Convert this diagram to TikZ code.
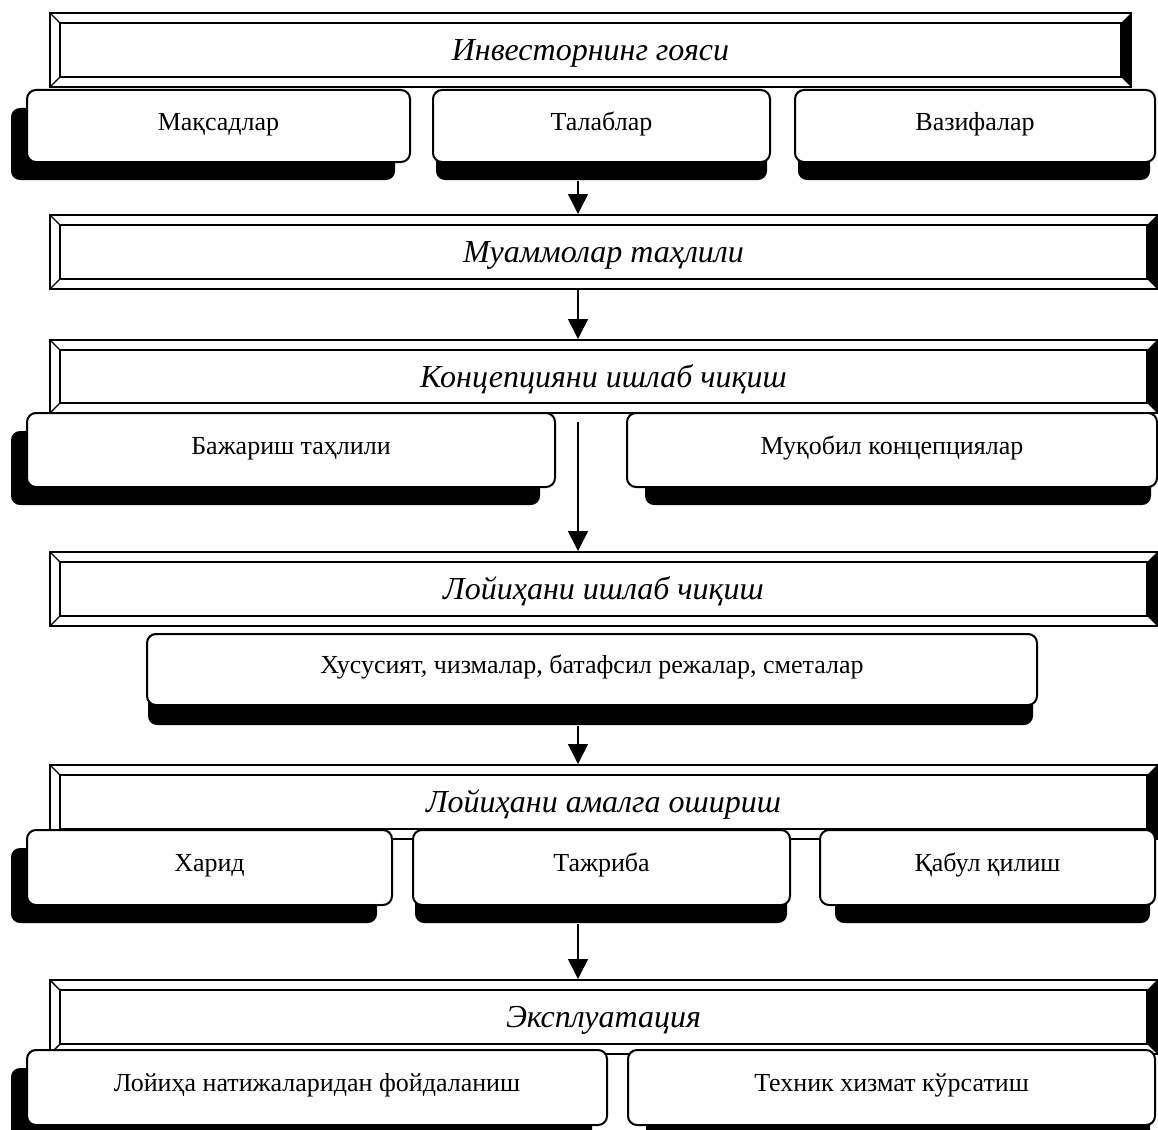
\documentclass[tikz,border=0pt]{standalone}
\usepackage{fontspec}
\setmainfont{Liberation Serif}
\usetikzlibrary{arrows.meta,calc}

\tikzset{
  hbox/.style={draw, line width=2pt, inner sep=0pt,
    text height=26pt, text depth=5pt,
    font=\fontsize{32}{36}\selectfont\itshape,
    path picture={
      \coordinate (ne) at (path picture bounding box.north east);
      \coordinate (se) at (path picture bounding box.south east);
      \coordinate (nw) at (path picture bounding box.north west);
      \coordinate (sw) at (path picture bounding box.south west);
      \fill (ne) -- ($(ne)+(-10,10)$) -- ($(se)+(-10,-10)$) -- (se) -- cycle;
      \draw[line width=1.6pt] ($(nw)+(10,10)$) rectangle ($(se)+(-10,-10)$);
      \draw[line width=1.4pt] (nw) -- ($(nw)+(10,10)$) (sw) -- ($(sw)+(10,-10)$);
    }},
  rbox/.style={draw, line width=2pt, rounded corners=9pt, fill=white, inner sep=0pt,
    text height=34pt, text depth=26pt, font=\fontsize{26}{30}\selectfont},
  shade/.style={fill=black, rounded corners=9pt},
  arr/.style={line width=1.5pt, -{Triangle[length=20pt,width=20pt]}},
}

% header box: name, x1, y1, x2, y2, text
\newcommand{\headbox}[6]{%
  \node[hbox, minimum width={#4-#2}, minimum height={#5-#3}] (#1)
    at ({(#2+#4)/2},{(#3+#5)/2}) {#6};}
% rounded box with a dropped shadow: name, x1, y1, x2, y2, shadow left, shadow right, shadow drop, text
\newcommand{\rowbox}[9]{%
  \fill[shade] ({#2+#6},{#3+#8}) rectangle ({#4+#7},{#5+#8});
  \node[rbox, minimum width={#4-#2}, minimum height={#5-#3}] (#1)
    at ({(#2+#4)/2},{(#3+#5)/2}) {#9};}

\begin{document}
\begin{tikzpicture}[x=1pt, y=-1pt]
\useasboundingbox (0,0) rectangle (1158,1129);
\coordinate (spine) at (578,0);

% stage 1
\headbox{h1}{50}{13}{1131}{87}{Инвесторнинг гояси}
\rowbox{maqsad}{27}{90}{410}{162}{-16}{-15}{18}{Мақсадлар}
\rowbox{talab}{433}{90}{770}{162}{3}{-3}{18}{Талаблар}
\rowbox{vazifa}{795}{90}{1155}{162}{3}{-5}{18}{Вазифалар}

% stage 2
\headbox{h2}{50}{215}{1157}{289}{Муаммолар таҳлили}

% stage 3
\headbox{h3}{50}{340}{1157}{413}{Концепцияни ишлаб чиқиш}
\rowbox{bajar}{27}{413}{555}{487}{-16}{-15}{18}{Бажариш таҳлили}
\rowbox{muqobil}{627}{413}{1157}{487}{18}{-6}{18}{Муқобил концепциялар}

% stage 4
\headbox{h4}{50}{552}{1157}{626}{Лойиҳани ишлаб чиқиш}
\rowbox{xusus}{147}{634}{1037}{705}{1}{-4}{20}{Хусусият, чизмалар, батафсил режалар, сметалар}

% stage 5
\headbox{h5}{50}{765}{1157}{839}{Лойиҳани амалга ошириш}
\rowbox{xarid}{27}{830}{392}{905}{-16}{-15}{18}{Харид}
\rowbox{tajriba}{413}{830}{790}{905}{2}{-3}{18}{Тажриба}
\rowbox{qabul}{820}{830}{1155}{905}{15}{-5}{18}{Қабул қилиш}

% stage 6
\headbox{h6}{50}{980}{1157}{1054}{Эксплуатация}
\rowbox{loyiha}{27}{1050}{607}{1125}{-16}{-15}{18}{Лойиҳа натижаларидан фойдаланиш}
\rowbox{texnik}{628}{1050}{1155}{1125}{18}{-5}{18}{Техник хизмат кўрсатиш}

% flow between stages
\draw[arr] ($(talab.south -| spine)+(0,18)$) -- (h2.north -| spine);
\draw[arr] (h2.south -| spine) -- (h3.north -| spine);
\draw[arr] ($(h3.south -| spine)+(0,8)$) -- (h4.north -| spine);
\draw[arr] ($(xusus.south -| spine)+(0,20)$) -- (h5.north -| spine);
\draw[arr] ($(tajriba.south -| spine)+(0,18)$) -- (h6.north -| spine);
\end{tikzpicture}
\end{document}
